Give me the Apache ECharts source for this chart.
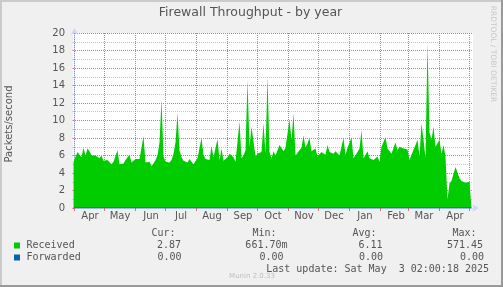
<!DOCTYPE html>
<html><head><meta charset="utf-8">
<script src="https://cdn.jsdelivr.net/npm/echarts@6/dist/echarts.min.js"></script>
<style>html,body{margin:0;padding:0;background:#F0F0F0}#c{width:503px;height:287px}</style>
</head><body><div id="c"></div>
<script>
// ---- data ----
const chartTitle = 'Firewall Throughput - by year';
const yAxisName = 'Packets/second';
const sideText = 'RRDTOOL / TOBI OETIKER';
const footerText = 'Munin 2.0.33';
const lastUpdate = 'Last update: Sat May  3 02:00:18 2025';
// days since 2024-04-01
const monthStarts = [0, 30, 61, 91, 122, 153, 183, 214, 244, 275, 306, 334, 365, 395];
const monthLabels = ['Apr', 'May', 'Jun', 'Jul', 'Aug', 'Sep', 'Oct', 'Nov', 'Dec', 'Jan', 'Feb', 'Mar', 'Apr'];
const windowStart = -1.5;
const windowEnd = 398.5;
const sampleStart = -1;
const sampleStep = 2;
const yMin = 0, yMax = 20, yStep = 2;
const received = [
 5.3,5.1,6.4,6.2,5.8,6.9,6.0,6.8,6.5,6.0,5.8,6.0,5.9,5.7,6.0,5.4,5.6,5.5,5.5,5.0,
 5.3,5.4,6.6,5.0,5.2,5.1,5.5,5.4,6.1,5.2,5.0,5.6,5.4,5.6,5.7,8.2,5.2,5.0,5.3,4.8,
 5.1,5.5,6.0,7.5,12.4,5.9,5.3,5.4,5.2,5.5,6.2,7.5,10.9,6.6,5.8,5.4,5.5,5.2,5.6,5.3,
 5.0,5.2,5.7,5.6,8.0,6.1,5.6,5.4,5.5,7.1,5.8,5.6,7.9,5.5,6.8,5.4,5.5,5.8,6.2,6.0,
 5.8,5.3,5.2,9.9,5.7,6.0,6.6,14.6,7.0,9.3,7.6,5.9,6.2,6.4,6.4,9.7,6.3,15.0,6.4,5.7,
 6.5,6.0,5.9,7.2,7.1,6.5,6.9,7.0,10.1,7.8,10.8,6.0,5.8,6.6,6.9,8.3,6.9,7.4,8.0,6.5,
 6.6,6.8,5.9,6.0,6.4,6.3,6.1,7.2,6.4,6.3,6.2,6.5,6.6,6.0,6.1,8.0,6.1,6.9,7.0,8.1,
 5.7,5.8,6.4,6.8,8.9,5.7,5.8,6.5,5.7,5.6,5.5,5.6,5.9,5.3,7.0,7.2,8.1,6.8,6.7,6.2,
 6.1,7.5,6.6,7.0,7.0,6.8,6.9,6.7,5.5,6.1,6.3,7.2,7.8,5.9,9.7,7.8,5.7,18.8,8.6,7.8,
 9.3,7.0,7.1,7.8,6.2,7.2,5.9,1.0,2.8,3.1,3.9,4.7,4.5,3.4,3.1,3.1,2.9,2.8,3.0,3.1
];
const forwarded = [0, 0];
const legendHeaders = ['Cur:', 'Min:', 'Avg:', 'Max:'];
const legendRows = [
  { name: 'Received', color: '#00CC00', values: ['2.87', '661.70m', '6.11', '571.45'] },
  { name: 'Forwarded', color: '#0066B3', values: ['0.00', '0.00', '0.00', '0.00'] }
];

// ---- styles ----
const FONT = 'DejaVu Sans';
const MONO = 'DejaVu Sans Mono';
const TXT = '#555555';
const MGRID = '#EC7070';
const GRID = '#C4C4C4';
const AXIS = '#CFD6F8';

const chart = echarts.init(document.getElementById('c'), null, { renderer: 'canvas' });

const labelDays = monthLabels.map((m, i) => monthStarts[i] + 15.5);
const recData = received.map((v, i) => [sampleStart + i * sampleStep, v]);
const lastX = sampleStart + (received.length - 1) * sampleStep;
const fwdData = [[sampleStart, forwarded[0]], [lastX, forwarded[1]]];

const headerEnds = [175.5, 276.5, 376.5, 476.5];
const valueEnds = [[181, 287.5, 382.5, 483], [181.5, 283.5, 383, 484]];
const rowY = [245, 257];

const graphics = [
  { type: 'rect', shape: { x: 0, y: 0, width: 503, height: 2 }, style: { fill: '#CBCBCB' }, silent: true },
  { type: 'rect', shape: { x: 0, y: 0, width: 2, height: 287 }, style: { fill: '#CBCBCB' }, silent: true },
  { type: 'rect', shape: { x: 0, y: 285, width: 503, height: 2 }, style: { fill: '#999999' }, silent: true },
  { type: 'rect', shape: { x: 501, y: 0, width: 2, height: 287 }, style: { fill: '#999999' }, silent: true },
  { type: 'text', x: 250.5, y: 13, style: { text: chartTitle, fontFamily: FONT, fontSize: 12.5, fill: TXT, align: 'center', verticalAlign: 'middle' } },
  { type: 'text', x: 9.5, y: 124, rotation: Math.PI / 2, style: { text: yAxisName, fontFamily: FONT, fontSize: 10, fill: TXT, align: 'center', verticalAlign: 'middle' } },
  { type: 'text', x: 493, y: 54, rotation: -Math.PI / 2, style: { text: sideText, fontFamily: FONT, fontSize: 7.5, fill: '#C8C8C8', align: 'center', verticalAlign: 'middle' } },
  { type: 'text', x: 252, y: 276, style: { text: footerText, fontFamily: FONT, fontSize: 7, fill: '#BDBDBD', align: 'center', verticalAlign: 'middle' } },
  { type: 'text', x: 489, y: 269, style: { text: lastUpdate, fontFamily: MONO, fontSize: 10, fill: TXT, align: 'right', verticalAlign: 'middle' } }
];
legendHeaders.forEach((h, i) => graphics.push({ type: 'text', x: headerEnds[i], y: 233.5,
  style: { text: h, fontFamily: MONO, fontSize: 10, fill: TXT, align: 'right', verticalAlign: 'middle' } }));
legendRows.forEach((r, j) => {
  graphics.push({ type: 'rect', shape: { x: 14, y: rowY[j] - 2.5, width: 6, height: 6 }, style: { fill: r.color } });
  graphics.push({ type: 'text', x: 26.5, y: rowY[j], style: { text: r.name, fontFamily: MONO, fontSize: 10, fill: TXT, align: 'left', verticalAlign: 'middle' } });
  r.values.forEach((v, i) => graphics.push({ type: 'text', x: valueEnds[j][i], y: rowY[j],
    style: { text: v, fontFamily: MONO, fontSize: 10, fill: TXT, align: 'right', verticalAlign: 'middle' } }));
});

chart.setOption({
  animation: false,
  backgroundColor: '#F0F0F0',
  grid: { left: 73, top: 33, width: 400, height: 175, show: true, backgroundColor: '#FFFFFF', borderWidth: 0, containLabel: false },
  xAxis: {
    type: 'value', min: windowStart, max: windowEnd,
    axisLine: { show: true, onZero: false, lineStyle: { color: AXIS, width: 1 }, symbol: ['none', 'arrow'], symbolSize: [6, 7], symbolOffset: [0, 6] },
    axisTick: { show: true, customValues: monthStarts, length: 3, lineStyle: { color: MGRID } },
    splitLine: { show: false },
    axisLabel: {
      customValues: labelDays, margin: 3, fontFamily: FONT, fontSize: 10, color: TXT,
      formatter: (v) => { const i = labelDays.findIndex(d => Math.abs(d - v) < 1); return i >= 0 ? monthLabels[i] : ''; }
    }
  },
  yAxis: {
    type: 'value', min: yMin, max: yMax, interval: yStep,
    axisLine: { show: true, lineStyle: { color: AXIS, width: 1 }, symbol: ['none', 'arrow'], symbolSize: [6, 7], symbolOffset: [0, 5] },
    axisTick: { show: true, length: 2, lineStyle: { color: MGRID } },
    minorTick: { show: true, splitNumber: 2, length: 2, lineStyle: { color: GRID } },
    splitLine: { show: true, lineStyle: { color: MGRID, type: [1, 1], width: 1 } },
    minorSplitLine: { show: true, lineStyle: { color: GRID, type: [1, 1], width: 1 } },
    axisLabel: { margin: 8, fontFamily: FONT, fontSize: 10, color: TXT }
  },
  series: [
    { name: 'monthGrid', type: 'line', data: [], silent: true, z: 1, color: MGRID,
      itemStyle: { color: MGRID }, lineStyle: { color: MGRID },
      markLine: { silent: true, z: 1, symbol: ['none', 'none'], animation: false,
        label: { show: false }, itemStyle: { color: MGRID },
        lineStyle: { color: MGRID, type: [1, 1], width: 1 },
        data: monthStarts.map(d => ({ xAxis: d, lineStyle: { color: MGRID, type: [1, 1], width: 1 } })) } },
    { name: 'Received', type: 'line', data: recData, symbol: 'none', showSymbol: false, smooth: false,
      lineStyle: { width: 0 }, areaStyle: { color: '#00CC00', opacity: 1 }, itemStyle: { color: '#00CC00' }, silent: true, z: 2 },
    { name: 'Forwarded', type: 'line', data: fwdData, symbol: 'none', showSymbol: false,
      lineStyle: { width: 1, color: '#0066B3' }, itemStyle: { color: '#0066B3' }, silent: true, z: 3 }
  ],
  graphic: graphics
});
</script>
</body></html>
